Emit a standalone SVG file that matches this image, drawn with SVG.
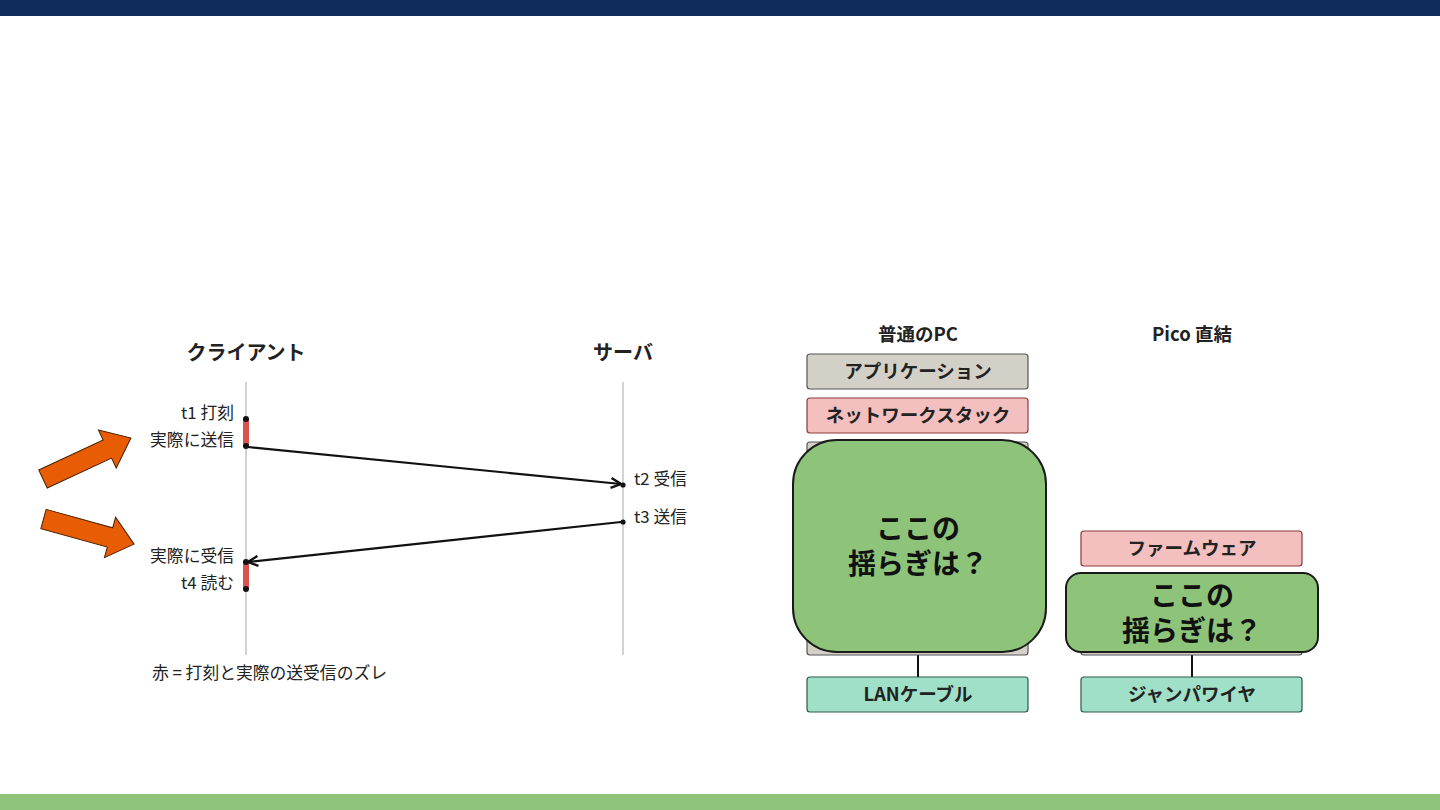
<svg xmlns="http://www.w3.org/2000/svg" width="1440" height="810" viewBox="0 0 1440 810">
<defs>
<style>
text{font-family:"Noto Sans CJK JP","Noto Sans",sans-serif;fill:#222}
.h{font-size:20px;font-weight:bold;text-anchor:middle}
.h2{font-size:18.5px;font-weight:bold;text-anchor:middle}
.lbl{font-size:16.8px}
.r{text-anchor:end}
.bx{font-size:18.5px;font-weight:bold;text-anchor:middle}
.big{font-size:28px;font-weight:bold;text-anchor:middle;fill:#111}
.life{stroke:#c8c8c8;stroke-width:1.6}
.msg{stroke:#111;stroke-width:2.2;fill:none}
.app{fill:#d3d0c8;stroke:#555;stroke-width:1.2}
.net{fill:#f4bfbf;stroke:#8b3a3a;stroke-width:1.2}
.cab{fill:#a0e0c8;stroke:#2a5a4a;stroke-width:1.2}
.grn{fill:#8dc47a;stroke:#1a1a1a;stroke-width:2}
.bar{fill:#d9534f;stroke:#d9534f}
.oarr{fill:#e85d04;stroke:#4a2000;stroke-width:1}
</style>
<marker id="ah" viewBox="0 0 12 12" refX="11" refY="6" markerWidth="12" markerHeight="12" markerUnits="userSpaceOnUse" orient="auto">
<path d="M1,1 L11,6 L1,11" fill="none" stroke="#111" stroke-width="2.4"/>
</marker>
</defs>
<rect width="1440" height="810" fill="#fff"/>
<rect x="0" y="0" width="1440" height="16" fill="#0f2b5c"/>
<rect x="0" y="794" width="1440" height="16" fill="#8fc47a"/>

<g id="client">
<text class="h" x="246" y="360">クライアント</text>
<line class="life" x1="246" y1="382" x2="246" y2="655"/>
</g>
<g id="server">
<text class="h" x="623" y="360">サーバ</text>
<line class="life" x1="623" y1="382" x2="623" y2="655"/>
</g>

<g id="connectors">
<line class="msg" x1="248" y1="447" x2="621" y2="484" marker-end="url(#ah)"/>
<line class="msg" x1="621" y1="522" x2="248" y2="562" marker-end="url(#ah)"/>
<line x1="918" y1="655" x2="918" y2="677" stroke="#111" stroke-width="2"/>
<line x1="1192" y1="655" x2="1192" y2="677" stroke="#111" stroke-width="2"/>
</g>

<g id="send-gap">
<rect class="bar" x="243.5" y="419" width="5" height="27"/>
<circle cx="246" cy="419" r="3" fill="#111"/>
<circle cx="246" cy="446" r="3" fill="#111"/>
<text class="lbl r" x="234" y="419">t1 打刻</text>
<text class="lbl r" x="234" y="446">実際に送信</text>
</g>
<g id="recv-gap">
<rect class="bar" x="243.5" y="562" width="5" height="27"/>
<circle cx="246" cy="562" r="3" fill="#111"/>
<circle cx="246" cy="589" r="3" fill="#111"/>
<text class="lbl r" x="234" y="562">実際に受信</text>
<text class="lbl r" x="234" y="589">t4 読む</text>
</g>
<g id="server-events">
<circle cx="623" cy="485" r="2.6" fill="#111"/>
<circle cx="623" cy="522" r="2.6" fill="#111"/>
<text class="lbl" x="634" y="485">t2 受信</text>
<text class="lbl" x="634" y="523">t3 送信</text>
</g>
<g id="legend">
<text class="lbl" x="152" y="679">赤 = 打刻と実際の送受信のズレ</text>
</g>

<g id="orange-arrows">
<path class="oarr" transform="translate(43,479) rotate(-25)" d="M0,-10 L71,-10 L71,-21 L97,0 L71,21 L71,10 L0,10 Z"/>
<path class="oarr" transform="translate(43.5,519) rotate(15.5)" d="M0,-10 L69,-10 L69,-21 L94,0 L69,21 L69,10 L0,10 Z"/>
</g>

<g id="pc">
<text class="h2" x="918" y="341">普通のPC</text>
<g id="pc-app"><rect class="app" x="807" y="354" width="221" height="35" rx="3"/><text class="bx" x="918" y="378">アプリケーション</text></g>
<g id="pc-net"><rect class="net" x="807" y="398" width="221" height="35" rx="3"/><text class="bx" x="918" y="422">ネットワークスタック</text></g>
<g id="pc-q"><rect class="app" x="807" y="442" width="221" height="213" rx="3"/>
<rect class="grn" x="793" y="440" width="253" height="212" rx="44"/>
<text class="big" x="918" y="539">ここの</text><text class="big" x="918" y="574">揺らぎは？</text></g>
<g id="pc-lan"><rect class="cab" x="807" y="677" width="221" height="35" rx="3"/><text class="bx" x="918" y="701">LANケーブル</text></g>
</g>

<g id="pico">
<text class="h2" x="1192" y="341">Pico 直結</text>
<g id="pico-fw"><rect class="net" x="1081" y="531" width="221" height="35" rx="3"/><text class="bx" x="1192" y="555">ファームウェア</text></g>
<g id="pico-q"><rect class="app" x="1081" y="574" width="221" height="81" rx="3"/>
<rect class="grn" x="1066" y="573" width="252" height="79" rx="15"/>
<text class="big" x="1192" y="606">ここの</text><text class="big" x="1192" y="641">揺らぎは？</text></g>
<g id="pico-jw"><rect class="cab" x="1081" y="677" width="221" height="35" rx="3"/><text class="bx" x="1192" y="701">ジャンパワイヤ</text></g>
</g>
</svg>
